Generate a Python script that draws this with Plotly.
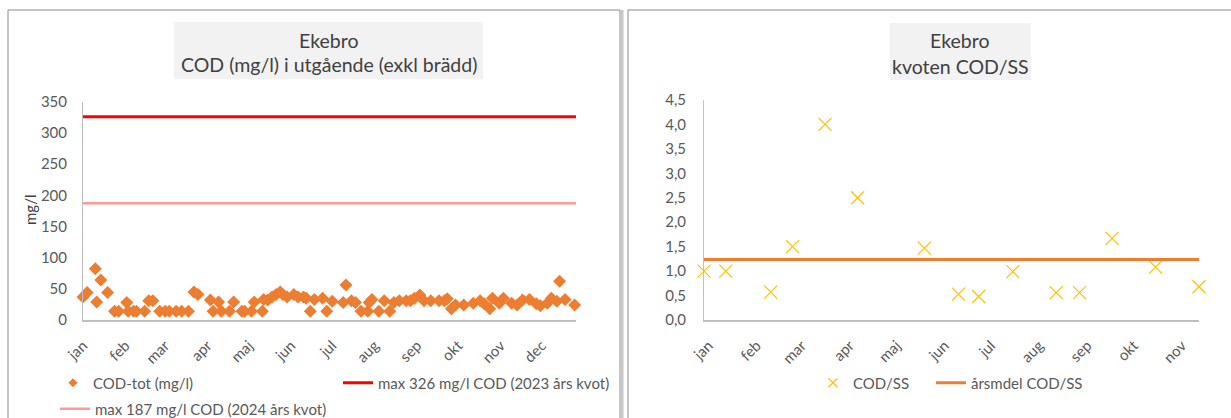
import plotly.graph_objects as go

# ---------------- data ----------------
cod_dates = [
    "2024-01-01", "2024-01-04", "2024-01-10", "2024-01-11", "2024-01-14", "2024-01-19",
    "2024-01-24", "2024-01-27", "2024-02-02", "2024-02-03", "2024-02-07", "2024-02-09",
    "2024-02-15", "2024-02-18", "2024-02-21", "2024-02-26", "2024-03-01", "2024-03-04",
    "2024-03-09", "2024-03-13", "2024-03-18", "2024-03-22", "2024-03-25", "2024-04-03",
    "2024-04-05", "2024-04-09", "2024-04-11", "2024-04-17", "2024-04-20", "2024-04-26",
    "2024-04-28", "2024-05-03", "2024-05-05", "2024-05-11", "2024-05-12", "2024-05-15",
    "2024-05-18", "2024-05-21", "2024-05-24", "2024-05-26", "2024-05-29", "2024-06-03",
    "2024-06-06", "2024-06-10", "2024-06-12", "2024-06-15", "2024-06-18", "2024-06-24",
    "2024-06-27", "2024-07-01", "2024-07-09", "2024-07-11", "2024-07-15", "2024-07-18",
    "2024-07-22", "2024-07-27", "2024-07-28", "2024-07-30", "2024-08-04", "2024-08-08",
    "2024-08-12", "2024-08-15", "2024-08-19", "2024-08-24", "2024-08-27", "2024-08-30",
    "2024-09-03", "2024-09-06", "2024-09-11", "2024-09-17", "2024-09-21", "2024-09-23",
    "2024-09-26", "2024-09-29", "2024-10-05", "2024-10-12", "2024-10-17", "2024-10-20",
    "2024-10-24", "2024-10-26", "2024-10-31", "2024-11-03", "2024-11-09", "2024-11-13",
    "2024-11-17", "2024-11-22", "2024-11-27", "2024-11-30", "2024-12-05", "2024-12-08",
    "2024-12-12", "2024-12-14", "2024-12-18", "2024-12-25",
]
cod_values = [
    37, 44, 82, 29, 64, 44,
    14, 14, 28, 14, 14, 14,
    14, 31, 31, 14, 14, 14,
    14, 14, 14, 45, 41, 32,
    14, 29, 14, 14, 29, 14,
    14, 14, 29, 14, 33, 32,
    37, 41, 45, 41, 37, 41,
    37, 37, 35, 14, 33, 35,
    14, 30, 28, 56, 31, 28,
    14, 14, 28, 33, 14, 31,
    14, 28, 31, 31, 31, 35,
    40, 31, 31, 31, 31, 34,
    18, 24, 24, 27, 31, 26,
    18, 35, 27, 35, 27, 24,
    32, 33, 26, 23, 27, 35,
    30, 62, 33, 24,
]
left_range = ["2024-01-01", "2024-12-26"]
max_2023 = 326
max_2024 = 187
left_month_ticks = ["2024-01-01", "2024-02-01", "2024-03-01", "2024-04-01", "2024-05-01",
                    "2024-06-01", "2024-07-01", "2024-08-01", "2024-09-01", "2024-10-01",
                    "2024-11-01", "2024-12-01"]
left_month_labels = ["jan", "feb", "mar", "apr", "maj", "jun", "jul", "aug", "sep", "okt", "nov", "dec"]
left_y_ticks = [0, 50, 100, 150, 200, 250, 300, 350]

ratio_dates = ["2023-12-29", "2024-01-12", "2024-02-10", "2024-02-24", "2024-03-16",
               "2024-04-06", "2024-05-19", "2024-06-10", "2024-06-23", "2024-07-15",
               "2024-08-12", "2024-08-27", "2024-09-17", "2024-10-15", "2024-11-12"]
ratio_values = [1.0, 1.0, 0.57, 1.5, 4.0, 2.5, 1.47, 0.53, 0.48, 0.99, 0.56, 0.56, 1.67, 1.08, 0.68]
arsmedel = 1.24
right_range = ["2023-12-29", "2024-11-12"]
right_month_ticks = ["2024-01-01", "2024-02-01", "2024-03-01", "2024-04-01", "2024-05-01",
                     "2024-06-01", "2024-07-01", "2024-08-01", "2024-09-01", "2024-10-01",
                     "2024-11-01"]
right_month_labels = ["jan", "feb", "mar", "apr", "maj", "jun", "jul", "aug", "sep", "okt", "nov"]
right_y_ticks = [0, 0.5, 1.0, 1.5, 2.0, 2.5, 3.0, 3.5, 4.0, 4.5]
right_y_labels = ["0,0", "0,5", "1,0", "1,5", "2,0", "2,5", "3,0", "3,5", "4,0", "4,5"]

# ---------------- layout helpers ----------------
W, H = 1231, 418
FONT = "Lato"
TXT = "#595959"
ORANGE = "#ED7D31"
YELLOW = "#FFC000"


def px(x):
    return x / W


def py(y):
    return 1 - y / H


fig = go.Figure()

# left chart
fig.add_trace(go.Scatter(
    x=cod_dates, y=cod_values, mode="markers", name="COD-tot (mg/l)",
    marker=dict(symbol="diamond", size=10, color=ORANGE),
    xaxis="x", yaxis="y", showlegend=False, cliponaxis=False))
# legend entry (smaller symbol, as in the reference legend)
fig.add_trace(go.Scatter(
    x=[None], y=[None], mode="markers", name="COD-tot (mg/l)",
    marker=dict(symbol="diamond", size=7, color=ORANGE),
    xaxis="x", yaxis="y", legend="legend"))
fig.add_trace(go.Scatter(
    x=left_range, y=[max_2023, max_2023], mode="lines",
    name="max 326 mg/l COD (2023 års kvot)",
    line=dict(color="#FF0000", width=3), xaxis="x", yaxis="y", legend="legend2"))
fig.add_trace(go.Scatter(
    x=left_range, y=[max_2024, max_2024], mode="lines",
    name="max 187 mg/l COD (2024 års kvot)",
    line=dict(color="#FF9999", width=2.5), xaxis="x", yaxis="y", legend="legend3"))

# right chart
fig.add_trace(go.Scatter(
    x=ratio_dates, y=ratio_values, mode="markers", name="COD/SS",
    marker=dict(symbol="x-thin-open", size=13, color=YELLOW,
                line=dict(color=YELLOW, width=1.2)),
    xaxis="x2", yaxis="y2", showlegend=False, cliponaxis=False))
fig.add_trace(go.Scatter(
    x=[None], y=[None], mode="markers", name="COD/SS",
    marker=dict(symbol="x-thin-open", size=9, color=YELLOW,
                line=dict(color=YELLOW, width=1.1)),
    xaxis="x2", yaxis="y2", legend="legend4"))
fig.add_trace(go.Scatter(
    x=right_range, y=[arsmedel, arsmedel], mode="lines", name="årsmdel COD/SS",
    line=dict(color=ORANGE, width=3), xaxis="x2", yaxis="y2", legend="legend5"))

axis_common = dict(showgrid=False, zeroline=False, showline=True, linecolor="#BFBFBF",
                   fixedrange=True)

leg_common = dict(orientation="h", bgcolor="rgba(0,0,0,0)", borderwidth=0,
                  font=dict(family=FONT, size=15, color=TXT),
                  xanchor="left", yanchor="middle", itemclick=False)

fig.update_layout(
    width=W, height=H, autosize=False,
    margin=dict(l=0, r=0, t=0, b=0, autoexpand=False),
    paper_bgcolor="white", plot_bgcolor="white",
    font=dict(family=FONT, color=TXT),
    xaxis=dict(**axis_common, domain=[px(83), px(576)], anchor="y", type="date",
               range=left_range, tickmode="array", tickvals=left_month_ticks,
               ticktext=left_month_labels, tickangle=-45,
               ticks="outside", ticklen=9, tickcolor="rgba(0,0,0,0)",
               tickfont=dict(family=FONT, size=15, color=TXT), linewidth=2),
    yaxis=dict(**axis_common, domain=[py(320), py(101.7)], anchor="x",
               range=[0, 350], tickmode="array", tickvals=left_y_ticks,
               ticks="outside", ticklen=12, tickcolor="rgba(0,0,0,0)",
               tickfont=dict(family=FONT, size=15, color=TXT), linewidth=1),
    xaxis2=dict(**axis_common, domain=[px(704), px(1199)], anchor="y2", type="date",
                range=right_range, tickmode="array", tickvals=right_month_ticks,
                ticktext=right_month_labels, tickangle=-45,
                ticks="outside", ticklen=9, tickcolor="rgba(0,0,0,0)",
                tickfont=dict(family=FONT, size=15, color=TXT), linewidth=2),
    yaxis2=dict(**axis_common, domain=[py(320), py(100)], anchor="x2",
                range=[0, 4.5], tickmode="array", tickvals=right_y_ticks,
                ticktext=right_y_labels,
                ticks="outside", ticklen=14, tickcolor="rgba(0,0,0,0)",
                tickfont=dict(family=FONT, size=15, color=TXT), linewidth=1),
    legend=dict(**leg_common, x=px(53), y=py(383)),
    legend2=dict(**leg_common, x=px(338), y=py(383)),
    legend3=dict(**leg_common, x=px(55), y=py(409)),
    legend4=dict(**leg_common, x=px(813), y=py(383)),
    legend5=dict(**leg_common, x=px(931), y=py(383)),
    showlegend=True,
)

# panel borders and title boxes
shapes = [
    dict(type="rect", xref="paper", yref="paper", x0=px(8), x1=px(620), y0=py(440), y1=py(10),
         line=dict(color="#8C8C8C", width=1), fillcolor="rgba(0,0,0,0)", layer="below"),
    dict(type="line", xref="paper", yref="paper", x0=px(622), x1=px(622), y0=py(440), y1=py(10),
         line=dict(color="#C8C8C8", width=3)),
    dict(type="rect", xref="paper", yref="paper", x0=px(628), x1=px(1250), y0=py(440), y1=py(10),
         line=dict(color="#8C8C8C", width=1), fillcolor="rgba(0,0,0,0)", layer="below"),
    dict(type="rect", xref="paper", yref="paper", x0=px(174), x1=px(483), y0=py(79), y1=py(22),
         line=dict(width=0), fillcolor="#F2F2F2", layer="below"),
    dict(type="rect", xref="paper", yref="paper", x0=px(890), x1=px(1031), y0=py(80), y1=py(23),
         line=dict(width=0), fillcolor="#F2F2F2", layer="below"),
]
fig.update_layout(shapes=shapes)

title_font = dict(family=FONT, size=19.5, color="#404040")
annotations = [
    dict(text="Ekebro", x=px(329), y=py(40), xref="paper", yref="paper", showarrow=False,
         font=title_font, xanchor="center", yanchor="middle"),
    dict(text="COD (mg/l) i utgående (exkl brädd)", x=px(329), y=py(65), xref="paper",
         yref="paper", showarrow=False, font=title_font, xanchor="center", yanchor="middle"),
    dict(text="Ekebro", x=px(960), y=py(40), xref="paper", yref="paper", showarrow=False,
         font=title_font, xanchor="center", yanchor="middle"),
    dict(text="kvoten COD/SS", x=px(960), y=py(66), xref="paper", yref="paper",
         showarrow=False, font=title_font, xanchor="center", yanchor="middle"),
    dict(text="mg/l", x=px(30), y=py(210), xref="paper", yref="paper", showarrow=False,
         textangle=-90, font=dict(family=FONT, size=15, color="#404040"),
         xanchor="center", yanchor="middle"),
]
fig.update_layout(annotations=annotations)

fig.write_html("out.html")
